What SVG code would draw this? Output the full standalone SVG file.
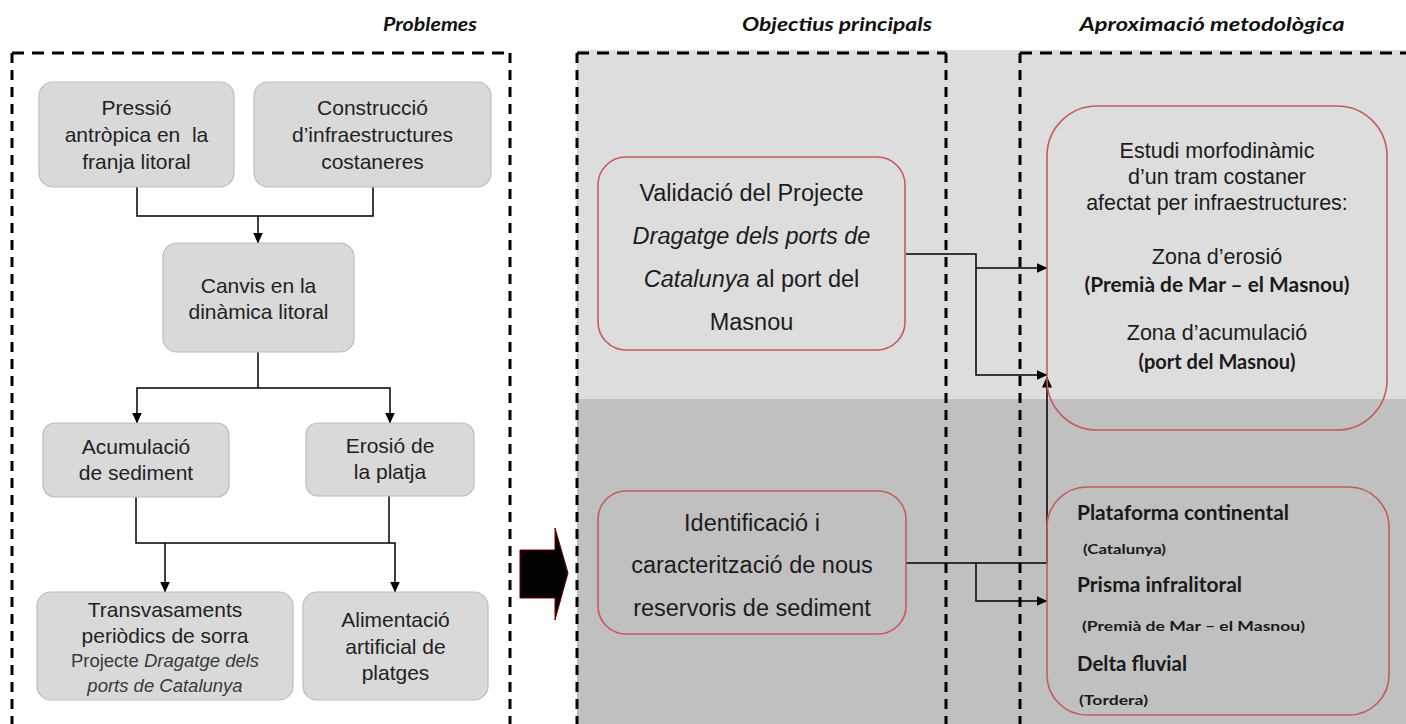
<svg xmlns="http://www.w3.org/2000/svg" width="1406" height="724" viewBox="0 0 1406 724">
<defs>
<marker id="ah" markerWidth="11" markerHeight="10" refX="10.5" refY="5" orient="auto" markerUnits="userSpaceOnUse"><path d="M0,0 L11,5 L0,10 z" fill="#000"/></marker>
<style>
.t{font-family:"Liberation Sans",Arial,sans-serif;fill:#222;text-anchor:middle}
.l{font-size:21px}
.s{font-size:18.5px;fill:#3a3a3a}
.m{font-size:23.5px;fill:#1c1c1c}
.r{font-size:21.5px;fill:#1c1c1c}
.c{font-family:Lato,"Liberation Sans",sans-serif;font-weight:bold;fill:#1a1a1a}
.k{font-family:Lato,"Liberation Sans",sans-serif;font-weight:bold;fill:#1a1a1a;text-anchor:start}
.h{font-family:Lato,"Liberation Sans",sans-serif;font-weight:bold;font-style:italic;font-size:19px;fill:#111;text-anchor:middle}
.gb{fill:#d9d9d9;stroke:#bdbdbd;stroke-width:1.2}
.rb{fill:none;stroke:#c65a5c;stroke-width:1.6}
.dv{stroke:#000;stroke-width:3;stroke-dasharray:10 7;fill:none}
.dh{stroke:#000;stroke-width:3;stroke-dasharray:12 8;fill:none}
.cn{fill:none;stroke:#000;stroke-width:1.5}
.i{font-style:italic}
</style>
</defs>
<rect x="0" y="0" width="1406" height="724" fill="#fff"/>
<g id="panels">
<rect x="577" y="50" width="829" height="349" fill="#dddddd"/>
<rect x="577" y="399" width="829" height="325" fill="#c0c0c0"/>
</g>
<g id="headers">
<text class="h" x="430" y="31" textLength="94" lengthAdjust="spacingAndGlyphs">Problemes</text>
<text class="h" x="837" y="31" textLength="190" lengthAdjust="spacingAndGlyphs">Objectius principals</text>
<text class="h" x="1212" y="31" textLength="265" lengthAdjust="spacingAndGlyphs">Aproximació metodològica</text>
</g>
<g id="frames">
<path class="dv" d="M12,53 V724 M510,53 V724 M577,53 V724 M946,53 V724 M1020,53 V724"/>
<path class="dh" d="M12,53 H510 M577,53 H946 M1020,53 H1406"/>
</g>
<g id="connectors">
<path class="cn" d="M137,187 V216 H373 V187"/>
<path class="cn" d="M258,216 V243" marker-end="url(#ah)"/>
<path class="cn" d="M258,352 V388"/>
<path class="cn" d="M258,388 H137 V423" marker-end="url(#ah)"/>
<path class="cn" d="M258,388 H390 V423" marker-end="url(#ah)"/>
<path class="cn" d="M389,496 V543"/>
<path class="cn" d="M136,497 V543 H395 V592" marker-end="url(#ah)"/>
<path class="cn" d="M165,543 V592" marker-end="url(#ah)"/>
<path class="cn" d="M906,254 H976 V375 H1047" marker-end="url(#ah)"/>
<path class="cn" d="M976,268 H1047" marker-end="url(#ah)"/>
<path class="cn" d="M906,563 H1047 V377" marker-end="url(#ah)"/>
<path class="cn" d="M976,563 V601 H1047" marker-end="url(#ah)"/>
</g>
<g id="big-arrow">
<polygon points="520,550 555,550 555,528 568,573 555,620 555,598 520,598" fill="#000" stroke="#7a0000" stroke-width="1"/>
</g>
<g id="n-pressio">
<rect class="gb" x="39" y="82" width="195" height="105" rx="14"/>
<text class="t l" x="136.5" y="115">Pressió</text>
<text class="t l" x="136.5" y="142" xml:space="preserve">antròpica en  la</text>
<text class="t l" x="136.5" y="169">franja litoral</text>
</g>
<g id="n-construccio">
<rect class="gb" x="254" y="82" width="237" height="105" rx="14"/>
<text class="t l" x="372.5" y="115">Construcció</text>
<text class="t l" x="372.5" y="142">d’infraestructures</text>
<text class="t l" x="372.5" y="169">costaneres</text>
</g>
<g id="n-canvis">
<rect class="gb" x="163" y="243" width="191" height="109" rx="14"/>
<text class="t l" x="258.5" y="293">Canvis en la</text>
<text class="t l" x="258.5" y="319">dinàmica litoral</text>
</g>
<g id="n-acumulacio">
<rect class="gb" x="43" y="423" width="186" height="74" rx="12"/>
<text class="t l" x="136" y="454">Acumulació</text>
<text class="t l" x="136" y="480">de sediment</text>
</g>
<g id="n-erosio">
<rect class="gb" x="306" y="423" width="168" height="73" rx="12"/>
<text class="t l" x="390" y="453">Erosió de</text>
<text class="t l" x="390" y="479">la platja</text>
</g>
<g id="n-transvasaments">
<rect class="gb" x="37" y="592" width="256" height="108" rx="14"/>
<text class="t l" x="165" y="617">Transvasaments</text>
<text class="t l" x="165" y="643">periòdics de sorra</text>
<text class="t s" x="165" y="667">Projecte <tspan class="i">Dragatge dels</tspan></text>
<text class="t s i" x="165" y="692">ports de Catalunya</text>
</g>
<g id="n-alimentacio">
<rect class="gb" x="303" y="592" width="185" height="108" rx="14"/>
<text class="t l" x="395.5" y="627">Alimentació</text>
<text class="t l" x="395.5" y="654">artificial de</text>
<text class="t l" x="395.5" y="680">platges</text>
</g>
<g id="n-validacio">
<rect class="rb" x="598" y="157" width="307" height="193" rx="28"/>
<text class="t m" x="751.5" y="201">Validació del Projecte</text>
<text class="t m i" x="751.5" y="244">Dragatge dels ports de</text>
<text class="t m" x="751.5" y="287"><tspan class="i">Catalunya</tspan> al port del</text>
<text class="t m" x="751.5" y="330">Masnou</text>
</g>
<g id="n-identificacio">
<rect class="rb" x="598" y="491" width="308" height="143" rx="28"/>
<text class="t m" x="752" y="531">Identificació i</text>
<text class="t m" x="752" y="573">caracterització de nous</text>
<text class="t m" x="752" y="616">reservoris de sediment</text>
</g>
<g id="n-estudi">
<rect class="rb" x="1047" y="106" width="340" height="324" rx="50"/>
<text class="t r" x="1217" y="158">Estudi morfodinàmic</text>
<text class="t r" x="1217" y="184">d’un tram costaner</text>
<text class="t r" x="1217" y="210">afectat per infraestructures:</text>
<text class="t r" x="1217" y="264">Zona d’erosió</text>
<text class="t c" x="1217" y="292" font-size="20" textLength="265" lengthAdjust="spacingAndGlyphs">(Premià de Mar – el Masnou)</text>
<text class="t r" x="1217" y="340">Zona d’acumulació</text>
<text class="t c" x="1217" y="369" font-size="20">(port del Masnou)</text>
</g>
<g id="n-reservoris">
<rect class="rb" x="1047" y="487" width="342" height="228" rx="40"/>
<text class="k" x="1077" y="520" font-size="20" textLength="212" lengthAdjust="spacingAndGlyphs">Plataforma continental</text>
<text class="k" x="1083" y="554" font-size="13" textLength="83" lengthAdjust="spacingAndGlyphs">(Catalunya)</text>
<text class="k" x="1077" y="592" font-size="20" textLength="165" lengthAdjust="spacingAndGlyphs">Prisma infralitoral</text>
<text class="k" x="1082" y="631" font-size="13.5" textLength="223" lengthAdjust="spacingAndGlyphs">(Premià de Mar  –  el Masnou)</text>
<text class="k" x="1077" y="671" font-size="20" textLength="110" lengthAdjust="spacingAndGlyphs">Delta fluvial</text>
<text class="k" x="1079" y="705" font-size="13" textLength="69" lengthAdjust="spacingAndGlyphs">(Tordera)</text>
</g>
</svg>
